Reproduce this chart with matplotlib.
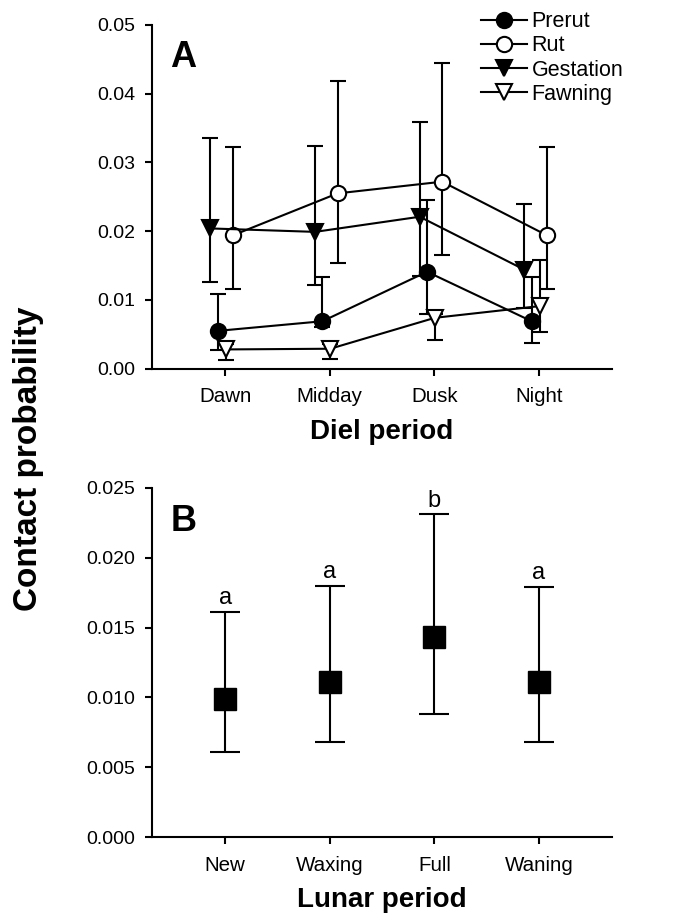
import numpy as np
import matplotlib
matplotlib.use("Agg")
import matplotlib.pyplot as plt

plt.rcParams['font.family'] = ['Liberation Sans', 'DejaVu Sans']

# panel A: diel period
diel = ["Dawn", "Midday", "Dusk", "Night"]
seasons = ["Prerut", "Rut", "Gestation", "Fawning"]
mean_a = {
    "Prerut":    [0.0055, 0.0069, 0.0141, 0.0069],
    "Rut":       [0.0194, 0.0255, 0.0272, 0.0194],
    "Gestation": [0.0204, 0.0199, 0.0221, 0.0144],
    "Fawning":   [0.0028, 0.0029, 0.0074, 0.0091],
}
upper_a = {
    "Prerut":    [0.0108, 0.0134, 0.0246, 0.0133],
    "Rut":       [0.0323, 0.0418, 0.0445, 0.0323],
    "Gestation": [0.0336, 0.0324, 0.0359, 0.0239],
    "Fawning":   [0.0036, 0.0036, 0.0079, 0.0158],
}
lower_a = {
    "Prerut":    [0.0027, 0.0061, 0.0080, 0.0037],
    "Rut":       [0.0116, 0.0154, 0.0166, 0.0116],
    "Gestation": [0.0126, 0.0121, 0.0135, 0.0088],
    "Fawning":   [0.0013, 0.0014, 0.0041, 0.0053],
}

# panel B: lunar period
lunar = ["New", "Waxing", "Full", "Waning"]
mean_b = [0.0099, 0.0111, 0.0143, 0.0111]
upper_b = [0.0161, 0.0180, 0.0231, 0.0179]
lower_b = [0.0061, 0.0068, 0.0088, 0.0068]
letters_b = ["a", "a", "b", "a"]

styles = {
    "Prerut":    dict(marker="o", mfc="black", offset=-0.07),
    "Rut":       dict(marker="o", mfc="white", offset=0.075),
    "Gestation": dict(marker="v", mfc="black", offset=-0.14),
    "Fawning":   dict(marker="v", mfc="white", offset=0.005),
}


def style_axes(ax):
    for side in ("top", "right"):
        ax.spines[side].set_visible(False)
    for side in ("left", "bottom"):
        ax.spines[side].set_linewidth(1.5)
    ax.tick_params(direction="out", length=5, width=1.5)
    ax.tick_params(axis="y", pad=7, labelsize=14)
    ax.tick_params(axis="x", pad=8.5, labelsize=14.8)


fig = plt.figure(figsize=(6.78, 9.24), dpi=100)
ax_a = fig.add_axes([0.224, 0.601, 0.679, 0.372])
ax_b = fig.add_axes([0.224, 0.094, 0.679, 0.378])

x = np.arange(1, 5)
for s in seasons:
    st = styles[s]
    xs = x + st["offset"]
    m = np.array(mean_a[s])
    err = [m - np.array(lower_a[s]), np.array(upper_a[s]) - m]
    ax_a.errorbar(xs, m, yerr=err, fmt="none", ecolor="black", elinewidth=1.5,
                  capsize=5.5, capthick=1.5, zorder=2)
    ax_a.plot(xs, m, color="black", lw=1.5, marker=st["marker"], ms=11,
              mfc=st["mfc"], mec="black", mew=1.5, label=s, zorder=3)

ax_a.set_xlim(0.3, 4.7)
ax_a.set_ylim(0, 0.05)
ax_a.set_xticks(x)
ax_a.set_xticklabels(diel)
ax_a.set_yticks(np.arange(0, 0.051, 0.01))
ax_a.set_yticklabels([f"{v:.2f}" for v in np.arange(0, 0.051, 0.01)])
ax_a.set_xlabel("Diel period", fontsize=20, fontweight="bold", labelpad=9)
style_axes(ax_a)
ax_a.text(0.04, 0.955, "A", transform=ax_a.transAxes, fontsize=26,
          fontweight="bold", va="top")
ax_a.legend(loc="upper left", bbox_to_anchor=(0.709, 0.988),
            bbox_transform=fig.transFigure, frameon=False,
            fontsize=15.5, handlelength=2.13, handletextpad=0.23,
            labelspacing=0.15, borderpad=0.0, borderaxespad=0.0)

mb = np.array(mean_b)
err_b = [mb - np.array(lower_b), np.array(upper_b) - mb]
ax_b.errorbar(x, mb, yerr=err_b, fmt="s", color="black", ms=16, elinewidth=1.5,
              capsize=11, capthick=1.5, zorder=3)
for xi, up, lt in zip(x, upper_b, letters_b):
    ax_b.text(xi, up + 0.0002, lt, ha="center", va="bottom", fontsize=17)

ax_b.set_xlim(0.3, 4.7)
ax_b.set_ylim(0, 0.025)
ax_b.set_xticks(x)
ax_b.set_xticklabels(lunar)
yt = np.arange(0, 0.0251, 0.005)
ax_b.set_yticks(yt)
ax_b.set_yticklabels([f"{v:.3f}" for v in yt])
ax_b.set_xlabel("Lunar period", fontsize=20, fontweight="bold", labelpad=9)
style_axes(ax_b)
ax_b.text(0.04, 0.955, "B", transform=ax_b.transAxes, fontsize=26,
          fontweight="bold", va="top")

fig.text(0.042, 0.503, "Contact probability", rotation=90, ha="center",
         va="center", fontsize=24, fontweight="bold")

fig.savefig("out.png", dpi=100)
